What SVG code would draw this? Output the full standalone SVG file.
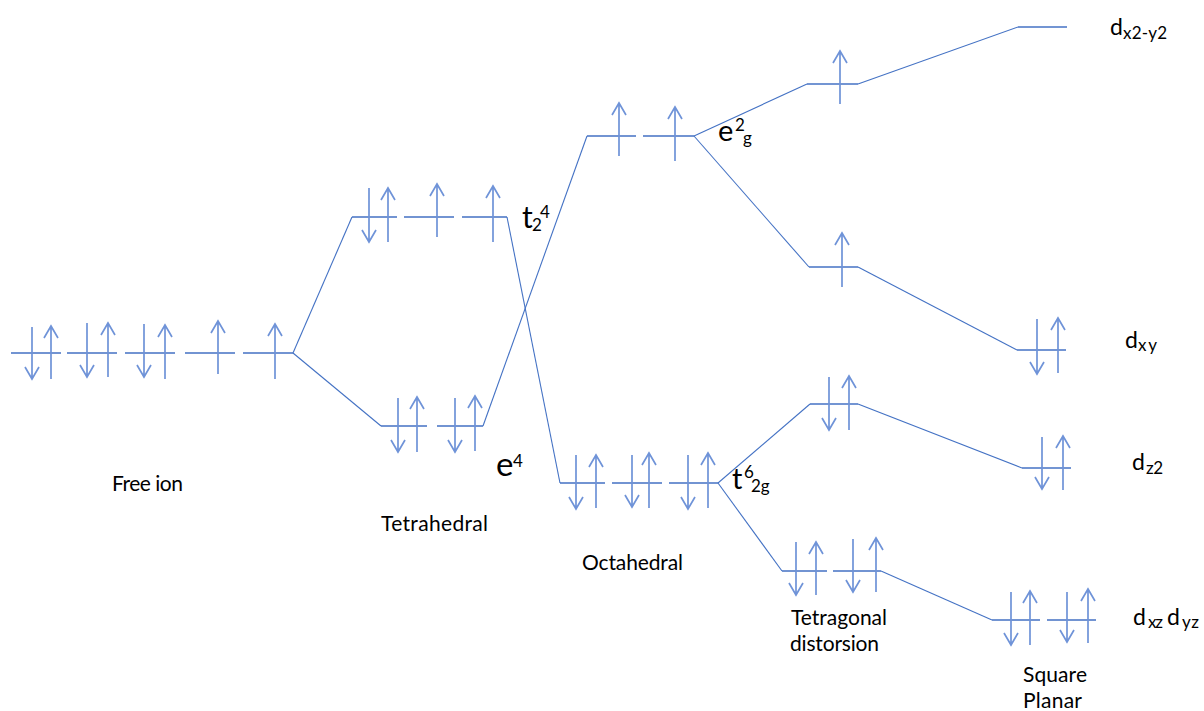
<svg xmlns="http://www.w3.org/2000/svg" width="1204" height="711" viewBox="0 0 1204 711">
<style>
.lv{stroke:#4472C4;stroke-width:1.3;fill:none}
.cn{stroke:#4472C4;stroke-width:1.1;fill:none}
.ar{stroke:#6f93d8;stroke-width:1.7;fill:none;stroke-linejoin:miter}
.lb{font-family:Lato,"Open Sans",sans-serif;font-size:21px;fill:#000}
.mt{font-family:Lato,"Open Sans",sans-serif;fill:#000}
</style>
<rect width="1204" height="711" fill="#fff"/>
<g id="connectors">
<path class="cn" d="M293,353 L352,217"/>
<path class="cn" d="M293,353 L381,426"/>
<path class="cn" d="M507,217 L560,483"/>
<path class="cn" d="M483,426 L587,136"/>
<path class="cn" d="M694,136 L807,84"/>
<path class="cn" d="M694,136 L809,267"/>
<path class="cn" d="M718,483 L810,404"/>
<path class="cn" d="M718,483 L782,571"/>
<path class="cn" d="M858,84 L1018,27"/>
<path class="cn" d="M858,267 L1017,350"/>
<path class="cn" d="M858,404 L1022,468"/>
<path class="cn" d="M881,571 L992,620"/>
</g>
<g id="free-ion">
<path class="lv" d="M11,353H61 M67,353H117 M125,353H175 M185,353H235 M243,353H293"/>
<path class="ar" d="M32,327V379 M25,367L32,379L39,367 M51,379V326 M44,338L51,326L58,338"/>
<path class="ar" d="M87,323V377 M80,365L87,377L94,365 M108,377V323 M101,335L108,323L115,335"/>
<path class="ar" d="M144,324V377 M137,365L144,377L151,365 M165,379V325 M158,337L165,325L172,337"/>
<path class="ar" d="M218,374V321 M211,333L218,321L225,333"/>
<path class="ar" d="M275,379V324 M268,336L275,324L282,336"/>
<text class="lb" x="112" y="491" textLength="71">Free ion</text>
</g>
<g id="tetrahedral">
<path class="lv" d="M352,217H397 M404,217H454 M462,217H507"/>
<path class="ar" d="M369,188V242 M362,230L369,242L376,230 M388,242V188 M381,200L388,188L395,200"/>
<path class="ar" d="M437,237V184 M430,196L437,184L444,196"/>
<path class="ar" d="M493,242V186 M486,198L493,186L500,198"/>
<path class="lv" d="M381,426H427 M437,426H483"/>
<path class="ar" d="M398,398V452 M391,440L398,452L405,440 M417,452V397 M410,409L417,397L424,409"/>
<path class="ar" d="M455,398V452 M448,440L455,452L462,440 M475,451V396 M468,408L475,396L482,408"/>
<text class="mt" x="522" y="228" font-size="30">t</text>
<text class="mt" x="532" y="231" font-size="17">2</text>
<text class="mt" x="540" y="218" font-size="17">4</text>
<text class="mt" x="496" y="476" font-size="33">e</text>
<text class="mt" x="513" y="467" font-size="17">4</text>
<text class="lb" x="381" y="531" textLength="107">Tetrahedral</text>
</g>
<g id="octahedral">
<path class="lv" d="M587,136H636 M643,136H694"/>
<path class="ar" d="M619,156V103 M612,115L619,103L626,115"/>
<path class="ar" d="M675,161V107 M668,119L675,107L682,119"/>
<path class="lv" d="M560,483H605 M612,483H662 M669,483H718"/>
<path class="ar" d="M576,455V509 M569,497L576,509L583,497 M596,508V455 M589,467L596,455L603,467"/>
<path class="ar" d="M632,455V507 M625,495L632,507L639,495 M649,508V453 M642,465L649,453L656,465"/>
<path class="ar" d="M688,455V509 M681,497L688,509L695,497 M708,508V453 M701,465L708,453L715,465"/>
<text class="mt" x="718" y="141" font-size="29">e</text>
<text class="mt" x="735" y="131" font-size="17">2</text>
<text class="mt" x="743" y="144" font-size="17">g</text>
<text class="mt" x="732" y="489" font-size="29">t</text>
<text class="mt" x="744" y="478" font-size="17">6</text>
<text class="mt" x="751" y="492" font-size="17">2g</text>
<text class="lb" x="582" y="570" textLength="101">Octahedral</text>
</g>
<g id="tetragonal">
<path class="lv" d="M807,84H858"/>
<path class="ar" d="M840,104V51 M833,63L840,51L847,63"/>
<path class="lv" d="M809,267H858"/>
<path class="ar" d="M842,287V233 M835,245L842,233L849,245"/>
<path class="lv" d="M810,404H858"/>
<path class="ar" d="M829,377V430 M822,418L829,430L836,418 M849,430V376 M842,388L849,376L856,388"/>
<path class="lv" d="M782,571H827 M833,571H881"/>
<path class="ar" d="M796,542V595 M789,583L796,595L803,583 M816,595V542 M809,554L816,542L823,554"/>
<path class="ar" d="M853,539V592 M846,580L853,592L860,580 M876,592V538 M869,550L876,538L883,550"/>
<text class="lb" x="791" y="625" textLength="96">Tetragonal</text>
<text class="lb" x="790" y="651" textLength="89">distorsion</text>
</g>
<g id="square-planar">
<path class="lv" d="M1018,27H1067"/>
<path class="lv" d="M1017,350H1066"/>
<path class="ar" d="M1037,319V374 M1030,362L1037,374L1044,362 M1058,373V318 M1051,330L1058,318L1065,330"/>
<path class="lv" d="M1022,468H1071"/>
<path class="ar" d="M1042,437V489 M1035,477L1042,489L1049,477 M1063,490V436 M1056,448L1063,436L1070,448"/>
<path class="lv" d="M992,620H1040 M1047,620H1096"/>
<path class="ar" d="M1011,592V645 M1004,633L1011,645L1018,633 M1030,645V591 M1023,603L1030,591L1037,603"/>
<path class="ar" d="M1067,592V642 M1060,630L1067,642L1074,630 M1088,643V589 M1081,601L1088,589L1095,601"/>
<text class="mt" x="1110" y="35" font-size="23">d</text>
<text class="mt" x="1123" y="39" font-size="17" textLength="44">x2-y2</text>
<text class="mt" x="1125" y="348" font-size="23">d</text>
<text class="mt" x="1138" y="351" font-size="17" textLength="19">xy</text>
<text class="mt" x="1132" y="470" font-size="23">d</text>
<text class="mt" x="1146" y="474" font-size="17" textLength="17">z2</text>
<text class="mt" x="1133" y="625" font-size="23">d</text>
<text class="mt" x="1148" y="628" font-size="17" textLength="15">xz</text>
<text class="mt" x="1167" y="625" font-size="23">d</text>
<text class="mt" x="1182" y="628" font-size="17" textLength="17">yz</text>
<text class="lb" x="1023" y="682" textLength="64">Square</text>
<text class="lb" x="1023" y="708" textLength="59">Planar</text>
</g>
</svg>
